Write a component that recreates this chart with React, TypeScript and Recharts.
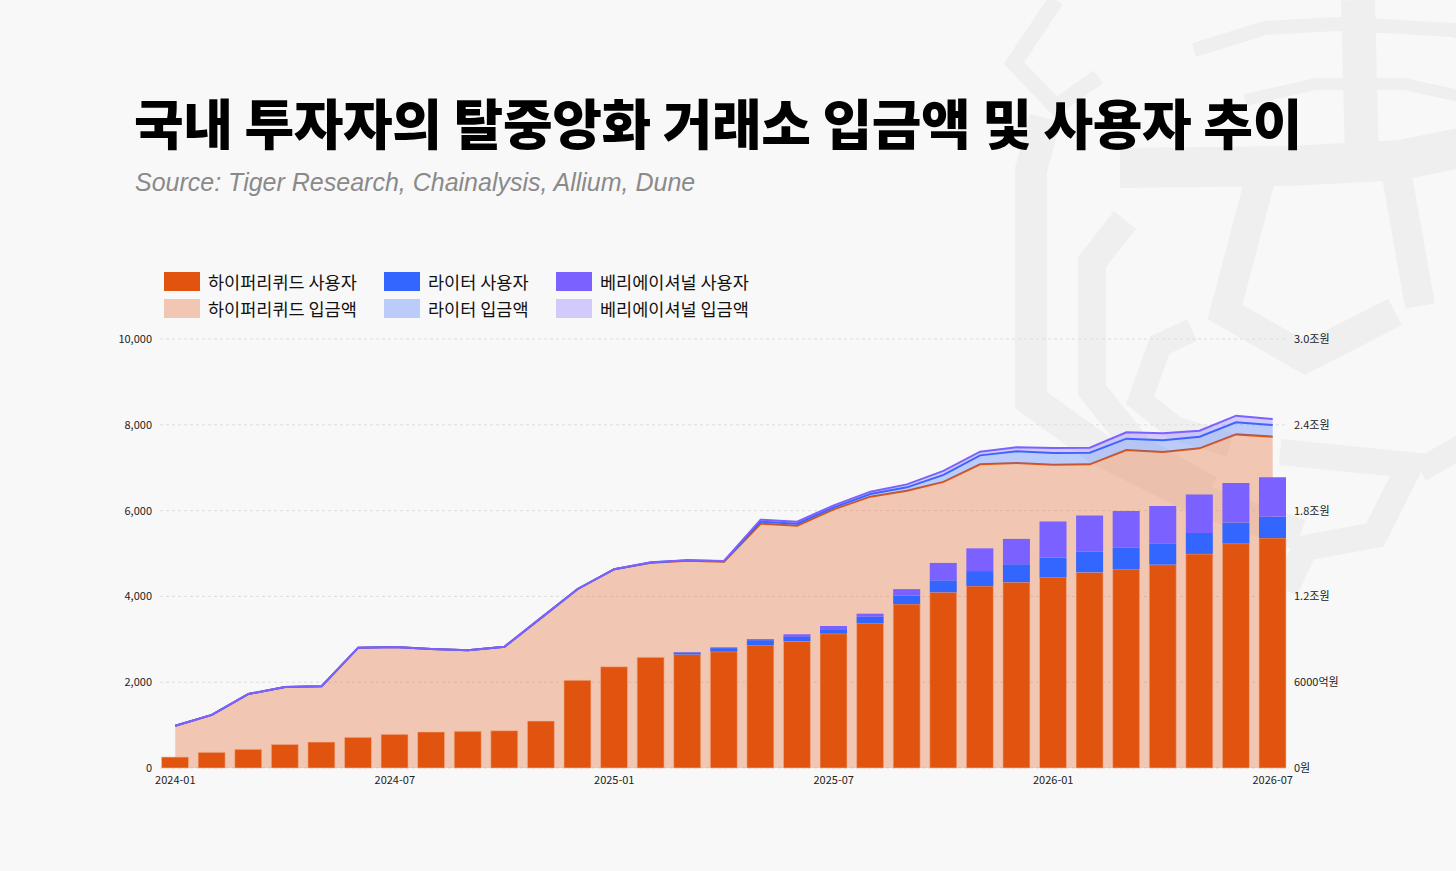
import React from "react";
import {
  ComposedChart, Bar, Area, XAxis, YAxis, CartesianGrid,
} from "recharts";

const MONTHS = [
  "2024-01", "2024-02", "2024-03", "2024-04", "2024-05", "2024-06",
  "2024-07", "2024-08", "2024-09", "2024-10", "2024-11", "2024-12",
  "2025-01", "2025-02", "2025-03", "2025-04", "2025-05", "2025-06",
  "2025-07", "2025-08", "2025-09", "2025-10", "2025-11", "2025-12",
  "2026-01", "2026-02", "2026-03", "2026-04", "2026-05", "2026-06",
  "2026-07",
];

// 사용자 수 (명)
const HYPER_USERS = [255, 365, 435, 550, 605, 715, 785, 840, 855, 870, 1095, 2045, 2360, 2580, 2645, 2710, 2865, 2955, 3130, 3380, 3820, 4095, 4240, 4330, 4440, 4560, 4640, 4740, 4990, 5230, 5360];
const LIGHTER_USERS = [0, 0, 0, 0, 0, 0, 0, 0, 0, 0, 0, 0, 0, 0, 50, 85, 115, 100, 105, 145, 195, 280, 350, 420, 465, 480, 495, 495, 490, 490, 495];
const VARIATIONAL_USERS = [0, 0, 0, 0, 0, 0, 0, 0, 0, 0, 0, 0, 0, 0, 5, 18, 25, 62, 75, 72, 155, 405, 530, 590, 840, 845, 855, 870, 895, 925, 925];

// 입금액 (억원)
const HYPER_DEPOSITS = [2960, 3710, 5175, 5665, 5715, 8415, 8460, 8320, 8230, 8485, 10500, 12520, 13900, 14360, 14500, 14420, 17085, 16945, 18090, 18975, 19390, 20010, 21235, 21330, 21210, 21235, 22240, 22100, 22355, 23330, 23170];
const LIGHTER_DEPOSITS = [0, 0, 0, 0, 0, 0, 0, 0, 0, 0, 0, 0, 0, 15, 25, 40, 140, 140, 140, 185, 236, 490, 628, 815, 815, 815, 790, 815, 815, 840, 815];
const VARIATIONAL_DEPOSITS = [0, 0, 0, 0, 0, 0, 0, 0, 0, 0, 0, 0, 0, 5, 10, 15, 140, 138, 140, 164, 207, 279, 254, 280, 350, 350, 445, 490, 420, 470, 420];

const LEFT_TICKS = [0, 2000, 4000, 6000, 8000, 10000];
const RIGHT_TICKS = [0, 6000, 12000, 18000, 24000, 30000];
const RIGHT_LABELS = ["0원", "6000억원", "1.2조원", "1.8조원", "2.4조원", "3.0조원"];

const C_HYPER = "#E0540F";
const C_LIGHTER = "#3366FF";
const C_VAR = "#7B61FF";

const LEGEND = [
  { label: "하이퍼리퀴드 사용자", color: C_HYPER, opacity: 1 },
  { label: "라이터 사용자", color: C_LIGHTER, opacity: 1 },
  { label: "베리에이셔널 사용자", color: C_VAR, opacity: 1 },
  { label: "하이퍼리퀴드 입금액", color: C_HYPER, opacity: 0.3 },
  { label: "라이터 입금액", color: C_LIGHTER, opacity: 0.3 },
  { label: "베리에이셔널 입금액", color: C_VAR, opacity: 0.3 },
];
const LEGEND_X = [164, 384, 556];

const data = MONTHS.map((m, i) => ({
  month: m,
  hyperUsers: HYPER_USERS[i],
  lighterUsers: LIGHTER_USERS[i],
  varUsers: VARIATIONAL_USERS[i],
  hyperDep: HYPER_DEPOSITS[i],
  lighterDep: LIGHTER_DEPOSITS[i],
  varDep: VARIATIONAL_DEPOSITS[i],
}));

const FONT = '"Noto Sans CJK KR", "Noto Sans", sans-serif';

// 배경 워터마크 (호랑이 로고를 굵은 선으로 대충)
const WATERMARK = [
  { d: "M1056,0 L1014,63 L1056,107 L1098,77", w: 16 },
  { d: "M1045,118 L1031,170 L1031,400 L1100,450 L1200,500 L1300,535", w: 32 },
  { d: "M1125,220 L1092,262 L1092,390 L1140,450 L1210,490", w: 28 },
  { d: "M1194,50 L1265,28 L1336,24 L1383,26 L1452,30 L1525,50", w: 14 },
  { d: "M1245,100 L1316,84 L1404,84 L1472,99", w: 12 },
  { d: "M1358,0 L1362,162", w: 34 },
  { d: "M1120,168 L1290,166 L1400,160 L1530,134", w: 40 },
  { d: "M1262,172 L1225,312 L1305,358 L1395,312", w: 30 },
  { d: "M1395,165 L1420,306", w: 30 },
  { d: "M1480,330 L1505,356 L1512,402 L1473,440 L1420,470", w: 24 },
  { d: "M1192,330 L1160,345 L1140,400 L1175,428 L1230,445", w: 24 },
  { d: "M1280,452 L1410,465 L1375,535 L1305,548 L1285,590", w: 26 },
];

export default function App() {
  return (
    <div
      style={{
        position: "absolute", left: 0, top: 0, width: 1456, height: 871,
        background: "#F8F8F8", overflow: "hidden", fontFamily: FONT,
      }}
    >
      <svg width={1456} height={871} style={{ position: "absolute", left: 0, top: 0 }}>
        {WATERMARK.map((p, i) => (
          <path key={i} d={p.d} fill="none" stroke="#EFEFEF" strokeWidth={p.w} strokeLinejoin="miter" />
        ))}
      </svg>

      <div
        style={{
          position: "absolute", left: 134, top: 95, fontSize: 54, fontWeight: 900,
          letterSpacing: -0.4, lineHeight: 1, color: "#000", whiteSpace: "nowrap",
        }}
      >
        국내 투자자의 탈중앙화 거래소 입금액 및 사용자 추이
      </div>
      <div
        style={{
          position: "absolute", left: 135, top: 170, fontSize: 25, fontStyle: "italic",
          fontFamily: '"Liberation Sans", Arial, sans-serif', color: "#8A8A8A",
          lineHeight: 1, whiteSpace: "nowrap",
        }}
      >
        Source: Tiger Research, Chainalysis, Allium, Dune
      </div>

      {LEGEND.map((l, i) => {
        const x = LEGEND_X[i % 3];
        const y = i < 3 ? 272 : 299;
        return (
          <div key={l.label} style={{ position: "absolute", left: x, top: y, display: "flex", alignItems: "center", height: 19 }}>
            <div style={{ width: 36, height: 19, background: l.color, opacity: l.opacity }} />
            <span style={{ marginLeft: 8, fontSize: 17.5, color: "#111", whiteSpace: "nowrap" }}>{l.label}</span>
          </div>
        );
      })}

      <div style={{ position: "absolute", left: 100, top: 329 }}>
        <ComposedChart
          width={1256}
          height={469}
          data={data}
          margin={{ top: 10, right: 0, bottom: 0, left: 0 }}
          barCategoryGap="12.5%"
        >
          <CartesianGrid yAxisId="left" vertical={false} stroke="#DDDDDD" strokeDasharray="3 3" />
          <XAxis
            dataKey="month"
            interval={5}
            tickLine={false}
            axisLine={false}
            height={30}
            padding={{ left: -3, right: -5 }}
            tick={{ fontSize: 11, fill: "#222", fontFamily: FONT }}
          />
          <YAxis
            yAxisId="left"
            width={60}
            domain={[0, 10000]}
            ticks={LEFT_TICKS}
            tickLine={false}
            axisLine={false}
            tick={{ fontSize: 11, fill: "#222", fontFamily: FONT }}
            tickFormatter={(v) => Number(v).toLocaleString("en-US")}
          />
          <YAxis
            yAxisId="right"
            orientation="right"
            width={70}
            domain={[0, 30000]}
            ticks={RIGHT_TICKS}
            tickLine={false}
            axisLine={false}
            tick={{ fontSize: 11, fill: "#222", fontFamily: FONT }}
            tickFormatter={(v) => RIGHT_LABELS[RIGHT_TICKS.indexOf(Number(v))] ?? ""}
          />
          <Area yAxisId="right" type="linear" dataKey="hyperDep" stackId="dep" stroke={C_HYPER} strokeWidth={2} fill={C_HYPER} fillOpacity={0.3} dot={false} activeDot={false} isAnimationActive={false} />
          <Area yAxisId="right" type="linear" dataKey="lighterDep" stackId="dep" stroke={C_LIGHTER} strokeWidth={2} fill={C_LIGHTER} fillOpacity={0.3} dot={false} activeDot={false} isAnimationActive={false} />
          <Area yAxisId="right" type="linear" dataKey="varDep" stackId="dep" stroke={C_VAR} strokeWidth={2} fill={C_VAR} fillOpacity={0.3} dot={false} activeDot={false} isAnimationActive={false} />
          <Bar yAxisId="left" dataKey="hyperUsers" stackId="users" fill={C_HYPER} stroke="#F2B595" strokeWidth={0.6} isAnimationActive={false} />
          <Bar yAxisId="left" dataKey="lighterUsers" stackId="users" fill={C_LIGHTER} isAnimationActive={false} />
          <Bar yAxisId="left" dataKey="varUsers" stackId="users" fill={C_VAR} isAnimationActive={false} />
        </ComposedChart>
      </div>
    </div>
  );
}
